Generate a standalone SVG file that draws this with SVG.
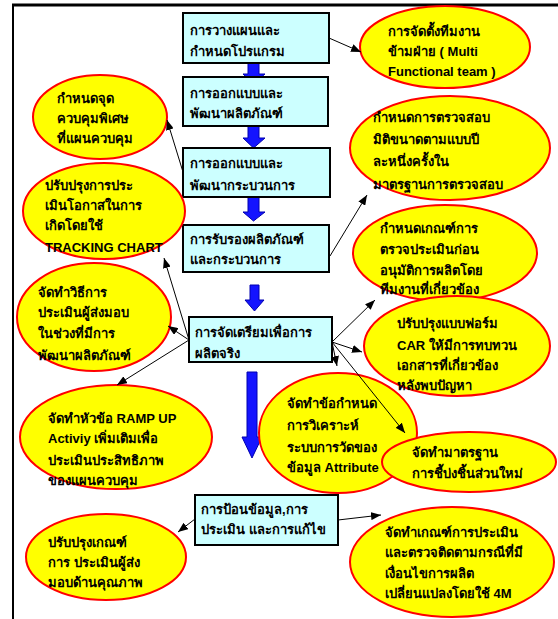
<svg xmlns="http://www.w3.org/2000/svg" width="558" height="619" viewBox="0 0 558 619">
<style>
.bx{fill:#CCFFFF;stroke:#000;stroke-width:2}
.el{fill:#FFFF00;stroke:#FF0000;stroke-width:2}
.t{font-family:"Liberation Sans","Noto Sans",sans-serif;font-weight:bold;font-size:13px;fill:#000}
.ba{fill:#1414FF;stroke:#0000B0;stroke-width:1}
.cn{stroke:#000;stroke-width:1;fill:none;marker-end:url(#ah)}
</style>
<defs>
<marker id="ah" markerUnits="userSpaceOnUse" markerWidth="10" markerHeight="8" refX="10" refY="4" orient="auto">
<path d="M0,0 L10,4 L0,8 z" fill="#000"/>
</marker>
</defs>
<rect width="558" height="619" fill="#fff"/>
<g id="frame">
<line x1="12" y1="5" x2="558" y2="5" stroke="#000" stroke-width="3"/>
<line x1="13" y1="4" x2="13" y2="619" stroke="#000" stroke-width="2"/>
</g>
<g id="flow-arrows">
<path class="ba" d="M248,63 H259 V74 H265 L253.5,84 L243,74 H248 Z"/>
<path class="ba" d="M248,126 H259 V138 H265 L253.5,148 L243,138 H248 Z"/>
<path class="ba" d="M248,197 H259 V212 H265 L253.5,221 L243,212 H248 Z"/>
<path class="ba" d="M250,285 H259 V300 H264 L254.5,311 L245,300 H250 Z"/>
<path class="ba" d="M247,372 H257 V437 H262 L252,458 L242,437 H247 Z"/>
</g>
<g id="box1"><rect class="bx" x="183" y="13" width="146" height="50"/>
<text class="t" x="190" y="35">การวางแผนและ</text><text class="t" x="190" y="56">กำหนดโปรแกรม</text></g>
<g id="box2"><rect class="bx" x="183" y="77" width="145" height="49"/>
<text class="t" x="190" y="98">การออกแบบและ</text><text class="t" x="190" y="118">พัฒนาผลิตภัณฑ์</text></g>
<g id="box3"><rect class="bx" x="183" y="148" width="147" height="49"/>
<text class="t" x="190" y="168">การออกแบบและ</text><text class="t" x="190" y="190">พัฒนากระบวนการ</text></g>
<g id="box4"><rect class="bx" x="183" y="225" width="146" height="47"/>
<text class="t" x="190" y="244">การรับรองผลิตภัณฑ์</text><text class="t" x="190" y="264">และกระบวนการ</text></g>
<g id="box5"><rect class="bx" x="189" y="317" width="143" height="45"/>
<text class="t" x="195" y="337">การจัดเตรียมเพื่อการ</text><text class="t" x="195" y="358">ผลิตจริง</text></g>
<g id="box6"><rect class="bx" x="195" y="495" width="143" height="50"/>
<text class="t" x="201" y="514">การป้อนข้อมูล,การ</text><text class="t" x="201" y="534">ประเมิน และการแก้ไข</text></g>
<g id="e-team"><ellipse class="el" cx="445" cy="47" rx="85" ry="41"/>
<text class="t" x="388" y="36">การจัดตั้งทีมงาน</text><text class="t" x="388" y="56">ข้ามฝ่าย ( Multi</text><text class="t" x="388" y="76">Functional team )</text></g>
<g id="e-dim"><ellipse class="el" cx="450" cy="148" rx="100" ry="52"/>
<text class="t" x="373" y="122">กำหนดการตรวจสอบ</text><text class="t" x="373" y="144">มิติขนาดตามแบบปี</text><text class="t" x="373" y="166">ละหนึ่งครั้งใน</text><text class="t" x="373" y="189">มาตรฐานการตรวจสอบ</text></g>
<g id="e-criteria"><ellipse class="el" cx="445" cy="253" rx="92" ry="48"/>
<text class="t" x="380" y="233">กำหนดเกณฑ์การ</text><text class="t" x="380" y="254">ตรวจประเมินก่อน</text><text class="t" x="380" y="275">อนุมัติการผลิตโดย</text><text class="t" x="380" y="294">ทีมงานที่เกี่ยวข้อง</text></g>
<g id="e-car"><ellipse class="el" cx="457" cy="346" rx="93" ry="50"/>
<text class="t" x="397" y="328">ปรับปรุงแบบฟอร์ม</text><text class="t" x="397" y="350">CAR ให้มีการทบทวน</text><text class="t" x="397" y="370">เอกสารที่เกี่ยวข้อง</text><text class="t" x="397" y="390">หลังพบปัญหา</text></g>
<g id="e-attr"><ellipse class="el" cx="338" cy="433" rx="79" ry="60"/>
<text class="t" x="287" y="408">จัดทำข้อกำหนด</text><text class="t" x="287" y="430">การวิเคราะห์</text><text class="t" x="287" y="452">ระบบการวัดของ</text><text class="t" x="287" y="472">ข้อมูล Attribute</text></g>
<g id="e-ident"><ellipse class="el" cx="469" cy="462" rx="87" ry="30"/>
<text class="t" x="412" y="457">จัดทำมาตรฐาน</text><text class="t" x="412" y="478">การชี้บ่งชิ้นส่วนใหม่</text></g>
<g id="e-4m"><ellipse class="el" cx="452" cy="562" rx="102" ry="55"/>
<text class="t" x="385" y="537">จัดทำเกณฑ์การประเมิน</text><text class="t" x="385" y="557">และตรวจติดตามกรณีที่มี</text><text class="t" x="385" y="578">เงื่อนไขการผลิต</text><text class="t" x="385" y="598">เปลี่ยนแปลงโดยใช้ 4M</text></g>
<g id="e-ctrl"><ellipse class="el" cx="100" cy="117" rx="67" ry="42"/>
<text class="t" x="57" y="103">กำหนดจุด</text><text class="t" x="57" y="123">ควบคุมพิเศษ</text><text class="t" x="57" y="143">ที่แผนควบคุม</text></g>
<g id="e-track"><ellipse class="el" cx="104" cy="211" rx="81" ry="48"/>
<text class="t" x="45" y="190">ปรับปรุงการประ</text><text class="t" x="45" y="210">เมินโอกาสในการ</text><text class="t" x="45" y="230">เกิดโดยใช้</text><text class="t" x="45" y="252">TRACKING CHART</text></g>
<g id="e-supplier"><ellipse class="el" cx="94" cy="317" rx="77" ry="54"/>
<text class="t" x="38" y="297">จัดทำวิธีการ</text><text class="t" x="38" y="317">ประเมินผู้ส่งมอบ</text><text class="t" x="38" y="338">ในช่วงที่มีการ</text><text class="t" x="38" y="360">พัฒนาผลิตภัณฑ์</text></g>
<g id="e-ramp"><ellipse class="el" cx="116" cy="437" rx="96" ry="52"/>
<text class="t" x="48" y="423">จัดทำหัวข้อ RAMP UP</text><text class="t" x="48" y="443"> Activiy เพิ่มเติมเพื่อ</text><text class="t" x="48" y="465">ประเมินประสิทธิภาพ</text><text class="t" x="48" y="485">ของแผนควบคุม</text></g>
<g id="e-quality"><ellipse class="el" cx="106" cy="557" rx="80" ry="43"/>
<text class="t" x="48" y="547">ปรับปรุงเกณฑ์</text><text class="t" x="48" y="567">การ ประเมินผู้ส่ง</text><text class="t" x="48" y="587">มอบด้านคุณภาพ</text></g>
<g id="connectors">
<line class="cn" x1="329" y1="38" x2="361" y2="52"/>
<line class="cn" x1="183" y1="172" x2="167" y2="120"/>
<line class="cn" x1="330" y1="256" x2="367" y2="195"/>
<line class="cn" x1="189" y1="340" x2="164" y2="258"/>
<line class="cn" x1="189" y1="340" x2="168" y2="326"/>
<line class="cn" x1="189" y1="340" x2="117" y2="385"/>
<line class="cn" x1="332" y1="342" x2="375" y2="300"/>
<line class="cn" x1="332" y1="342" x2="362" y2="352"/>
<line class="cn" x1="332" y1="342" x2="337" y2="366"/>
<line class="cn" x1="332" y1="342" x2="405" y2="433"/>
<line class="cn" x1="338" y1="520" x2="381" y2="515"/>
<line class="cn" x1="195" y1="519" x2="178" y2="532"/>
</g>
</svg>
